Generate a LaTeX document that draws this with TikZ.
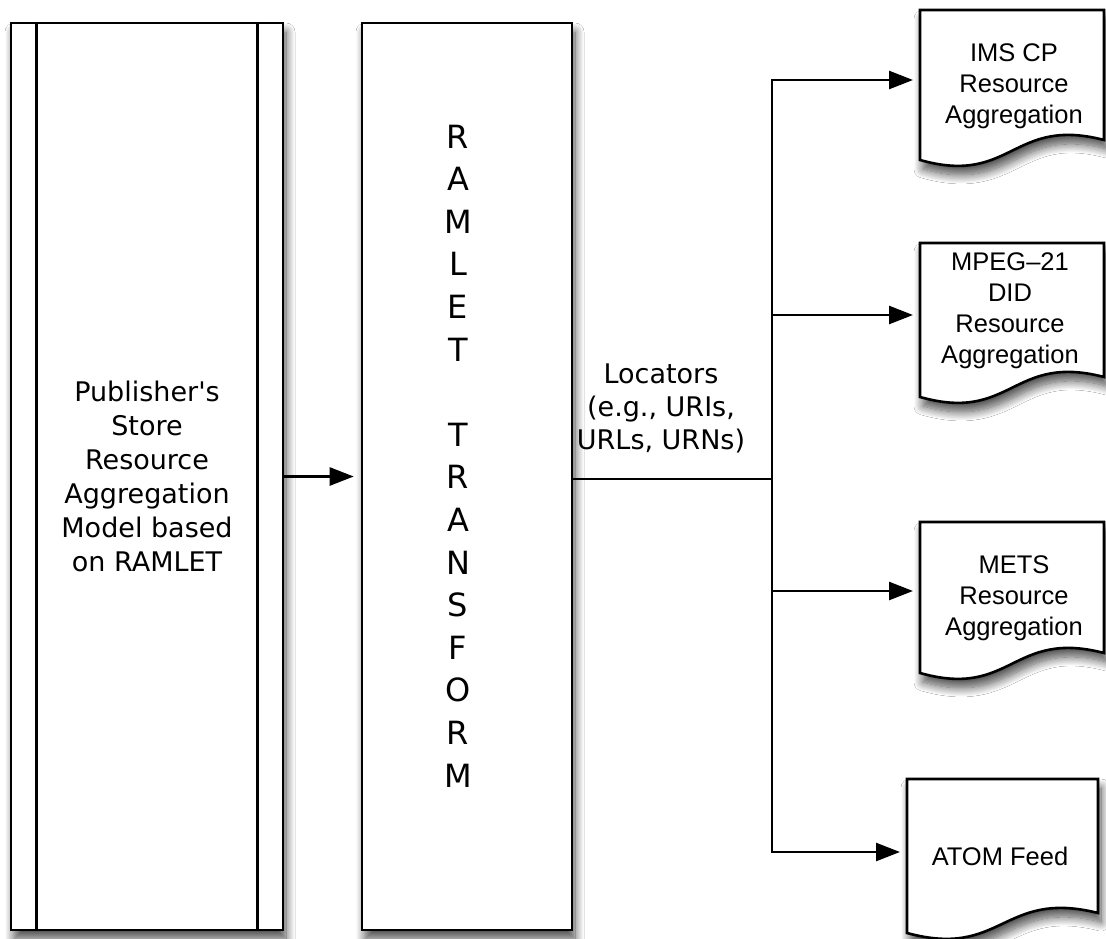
\documentclass[tikz,border=0pt]{standalone}
\usepackage{fontspec}
\setmainfont{Liberation Sans}
\newfontfamily\verdfont{DejaVu Sans}
\usetikzlibrary{arrows.meta,calc,shadows.blur}

\tikzset{
  outline/.style={draw=black, line width=2.6pt, fill=white},
  soft shadow/.style={blur shadow={shadow xshift=3pt, shadow yshift=-9pt,
      shadow blur radius=9pt, shadow blur steps=14, shadow opacity=70}},
  column/.style={outline, soft shadow, minimum width=#1, minimum height=907pt, inner sep=0pt},
  link/.style={line width=2.6pt, draw=black},
  feed/.style={link, -{Triangle[length=24pt,width=18pt]}, shorten >=7pt},
  doclabel/.style={font=\fontsize{25.5}{31}\selectfont, align=center, inner sep=0pt},
  sanslabel/.style={font=\verdfont\fontsize{27}{34}\selectfont, align=center, inner sep=0pt},
}

% document sheet with a wavy lower edge: left, top, right, bottom-left
\newcommand\docsheet[4]{%
  \path[outline, soft shadow] (#1,#2) -- (#3,#2) -- (#3,#4-20)
    .. controls ({(#1+#3)/2},#4-44) and ({(#1+#3)/2},#4+26) .. (#1,#4) -- cycle;}

\begin{document}
\begin{tikzpicture}[x=1pt, y=-1pt]
\fill[white] (0,0) rectangle (1106,939);
\useasboundingbox (0,0) rectangle (1106,939);

% source store
\node[column=272pt, sanslabel] (store) at (147,476.5)
  {Publisher's\\Store\\Resource\\Aggregation\\Model based\\on RAMLET};
\draw[link] ($(store.north west)+(27,0)$) -- ($(store.south west)+(27,0)$);
\draw[link] ($(store.north east)+(-27,0)$) -- ($(store.south east)+(-27,0)$);

% transform column
\node[column=210pt] (ramlet) at (467,476.5) {};
\node[font=\verdfont\fontsize{32}{42.6}\selectfont, align=center, inner sep=0pt]
  (ramletlabel) at (458,456)
  {R\\A\\M\\L\\E\\T\\\mbox{}\\T\\R\\A\\N\\S\\F\\O\\R\\M};

\draw[feed] (store.east) -- (ramlet.west);

% distribution bus
\coordinate (busA) at (772,80);
\coordinate (busB) at (772,315);
\coordinate (busM) at (772,479);
\coordinate (busC) at (772,591);
\coordinate (busD) at (772,852);
\draw[link] (ramlet.east |- busM) -- (busM);
\draw[link, line cap=rect] (busA) -- (busD);
\node[font=\verdfont\fontsize{27}{33}\selectfont, align=center, inner sep=0pt]
  (locators) at (661,408) {Locators\\(e.g., URIs,\\URLs, URNs)};

% output documents
\docsheet{920}{10}{1104}{160}
\docsheet{920}{243}{1104}{397}
\docsheet{920}{522}{1104}{673}
\docsheet{907}{779}{1098}{933}

\node[doclabel] (ims) at (1014,86) {IMS CP\\Resource\\Aggregation};
\node[doclabel] (mpeg) at (1010,311) {MPEG–21\\DID\\Resource\\Aggregation};
\node[doclabel] (mets) at (1014,598) {METS\\Resource\\Aggregation};
\node[doclabel] (atom) at (1000,856) {ATOM Feed};

\coordinate (imsin) at (920,80);
\coordinate (mpegin) at (920,315);
\coordinate (metsin) at (920,591);
\coordinate (atomin) at (907,852);

\draw[feed] (busA) -- (imsin);
\draw[feed] (busB) -- (mpegin);
\draw[feed] (busC) -- (metsin);
\draw[feed] (busD) -- (atomin);
\end{tikzpicture}
\end{document}
